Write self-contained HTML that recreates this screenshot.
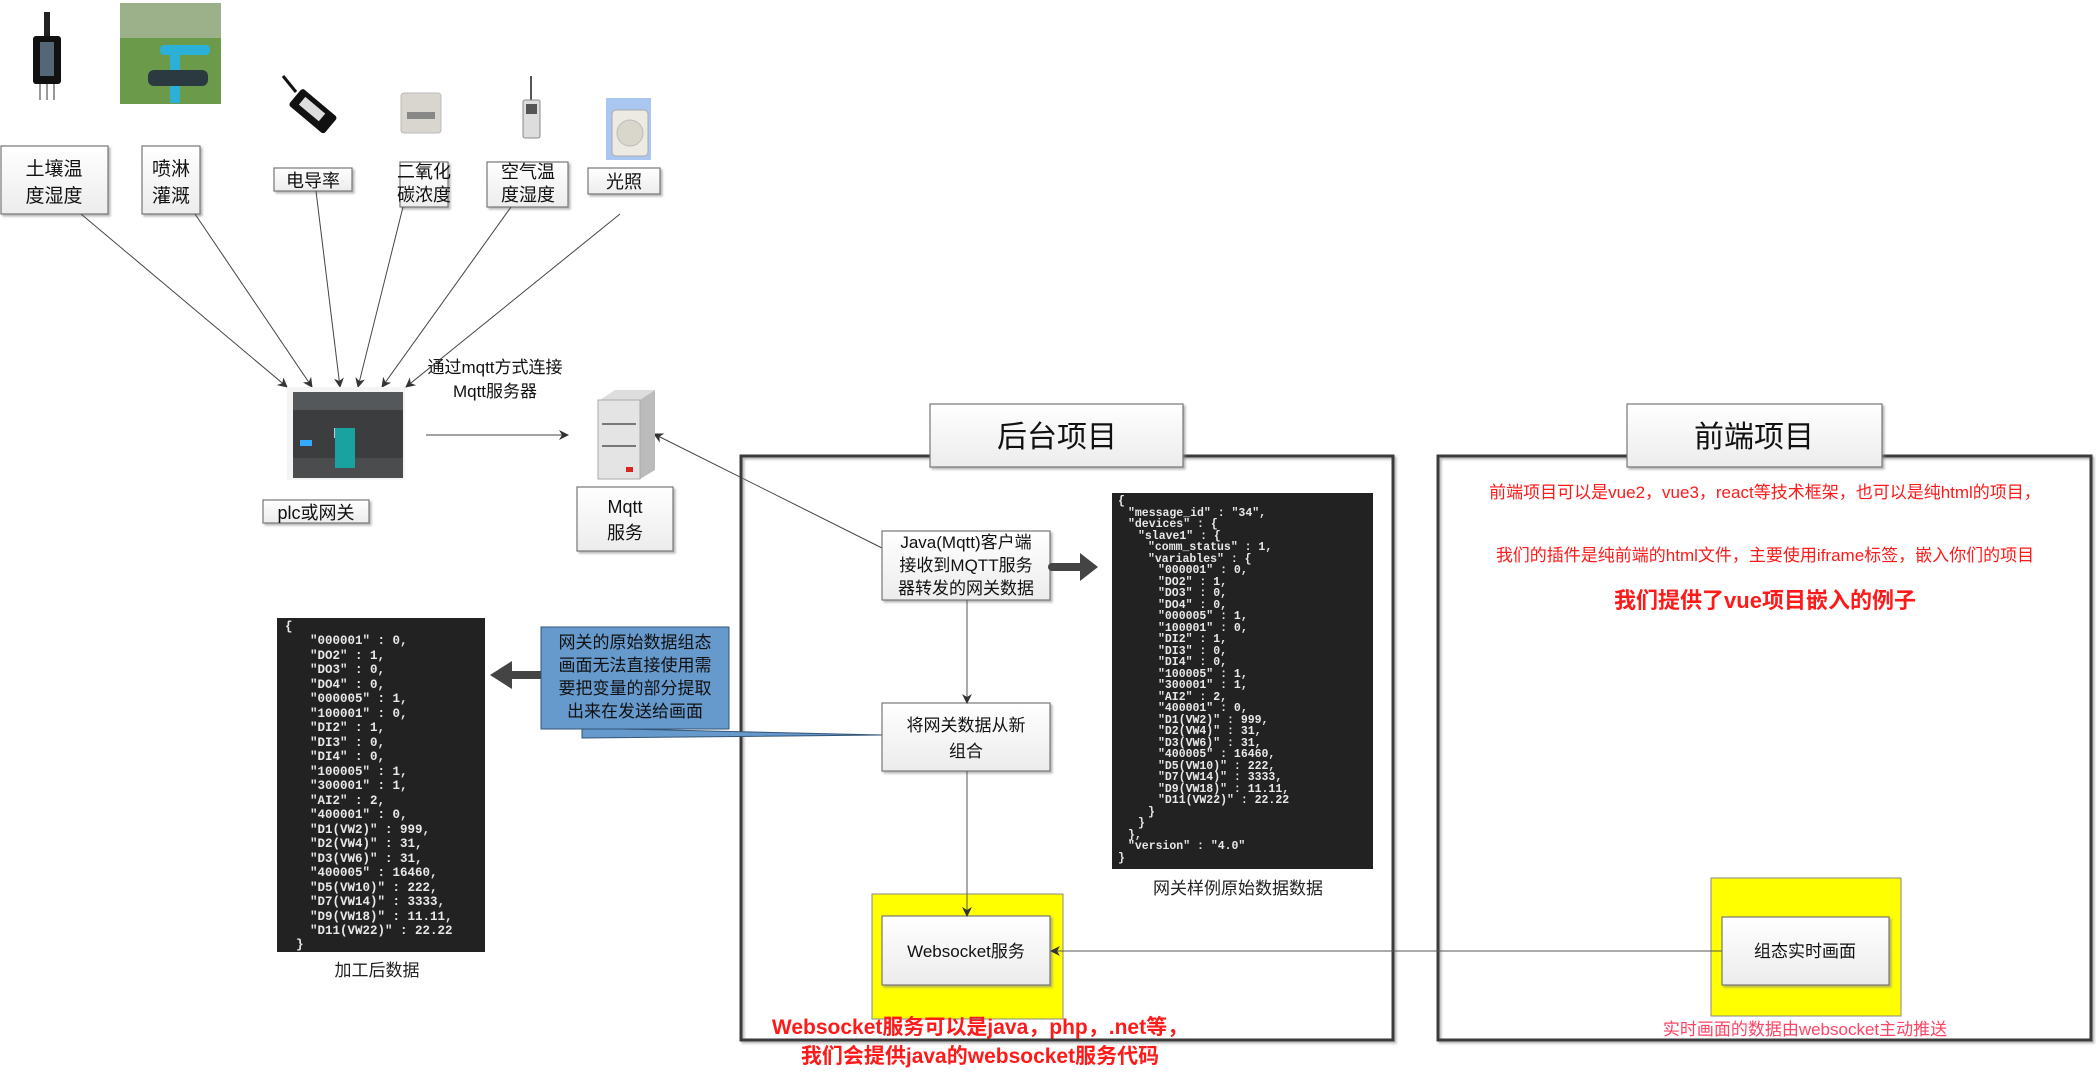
<!DOCTYPE html>
<html><head><meta charset="utf-8">
<style>
html,body{margin:0;padding:0;background:#fff;width:2096px;height:1084px;overflow:hidden}
svg{display:block}
text{font-family:"Liberation Sans","Noto Sans CJK SC",sans-serif}
.lbl{font-size:19px;fill:#111}
.code text{font-family:"Liberation Mono","DejaVu Sans Mono",monospace;font-weight:bold;fill:#e8e8e8}
</style></head><body>
<svg width="2096" height="1084" viewBox="0 0 2096 1084" xmlns="http://www.w3.org/2000/svg">
<defs>
<linearGradient id="g" x1="0" y1="0" x2="0" y2="1"><stop offset="0" stop-color="#ffffff"/><stop offset="1" stop-color="#ececec"/></linearGradient>
<marker id="a" markerWidth="10" markerHeight="10" refX="9" refY="5" orient="auto" markerUnits="userSpaceOnUse"><path d="M0,0 L10,5 L0,10 L3,5 z" fill="#333"/></marker>
<filter id="sh" x="-5%" y="-5%" width="115%" height="115%"><feDropShadow dx="2" dy="2" stdDeviation="1" flood-color="#888" flood-opacity="0.6"/></filter>
</defs>

<rect x="44" y="12" width="6" height="28" fill="#222"/>
<rect x="33" y="36" width="28" height="48" rx="3" fill="#111"/>
<rect x="40" y="42" width="14" height="34" fill="#567"/>
<line x1="40" y1="84" x2="40" y2="100" stroke="#999" stroke-width="2"/><line x1="47" y1="84" x2="47" y2="100" stroke="#999" stroke-width="2"/><line x1="54" y1="84" x2="54" y2="100" stroke="#999" stroke-width="2"/>
<rect x="120" y="3" width="101" height="101" fill="#6a9a4a"/>
<rect x="120" y="3" width="101" height="35" fill="#9cb08a"/>
<rect x="160" y="45" width="50" height="10" rx="4" fill="#2bb0d8"/>
<rect x="170" y="55" width="10" height="48" fill="#2bb0d8"/>
<rect x="148" y="70" width="60" height="16" rx="6" fill="#2a3a40"/>
<g transform="rotate(40 310 110)"><rect x="290" y="98" width="46" height="22" rx="3" fill="#111"/><rect x="298" y="103" width="26" height="10" fill="#ddd"/></g>
<line x1="283" y1="76" x2="296" y2="92" stroke="#111" stroke-width="3"/>
<rect x="401" y="93" width="40" height="40" rx="3" fill="#d8d6cf" stroke="#bbb"/>
<rect x="407" y="112" width="28" height="7" fill="#888"/>
<line x1="531" y1="76" x2="531" y2="100" stroke="#555" stroke-width="2"/>
<rect x="523" y="100" width="17" height="38" rx="2" fill="#ddd" stroke="#888"/>
<rect x="526" y="104" width="11" height="10" fill="#555"/>
<rect x="606" y="98" width="45" height="62" fill="#a9c7f0"/>
<rect x="612" y="110" width="36" height="46" rx="4" fill="#eceae2" stroke="#aaa"/>
<circle cx="630" cy="133" r="13" fill="#d9d6cc" stroke="#bbb"/>

<g filter="url(#sh)" stroke="#777" stroke-width="1.2" fill="url(#g)">
<rect x="1" y="146" width="107" height="68"/>
<rect x="142" y="146" width="58" height="68"/>
<rect x="274" y="168" width="78" height="23"/>
<rect x="400" y="162" width="48" height="45"/>
<rect x="487" y="162" width="81" height="45"/>
<rect x="588" y="168" width="72" height="26"/>
<rect x="263" y="500" width="106" height="23"/>
<rect x="577" y="487" width="96" height="64"/>
</g>
<g class="lbl" text-anchor="middle">
<text x="54" y="175">土壤温</text><text x="54" y="202">度湿度</text>
<text x="171" y="175">喷淋</text><text x="171" y="202">灌溉</text>
<text x="313" y="187" font-size="18">电导率</text>
<text x="424" y="178" font-size="18">二氧化</text><text x="424" y="201" font-size="18">碳浓度</text>
<text x="528" y="178" font-size="18">空气温</text><text x="528" y="201" font-size="18">度湿度</text>
<text x="624" y="188" font-size="18">光照</text>
<text x="316" y="519" font-size="18">plc或网关</text>
<text x="625" y="513" font-size="18">Mqtt</text><text x="625" y="539" font-size="18">服务</text>
<text x="495" y="373" font-size="17">通过mqtt方式连接</text>
<text x="495" y="397" font-size="17">Mqtt服务器</text>
</g>

<g stroke="#444" stroke-width="1" marker-end="url(#a)">
<line x1="81" y1="214" x2="287" y2="387"/>
<line x1="195" y1="214" x2="312" y2="387"/>
<line x1="316" y1="191" x2="340" y2="387"/>
<line x1="403" y1="207" x2="358" y2="387"/>
<line x1="511" y1="207" x2="382" y2="387"/>
<line x1="620" y1="214" x2="406" y2="387"/>
<line x1="426" y1="435" x2="568" y2="435"/>
<line x1="882" y1="548" x2="654" y2="434"/>
</g>

<rect x="287" y="387" width="118" height="93" fill="#f4f4f4"/>
<rect x="293" y="392" width="110" height="86" fill="#3b3d3f"/>
<rect x="293" y="392" width="110" height="18" fill="#55585a"/>
<rect x="293" y="458" width="110" height="20" fill="#4a4c4e"/>
<rect x="334" y="428" width="10" height="10" fill="#ccc"/>
<rect x="335" y="428" width="20" height="40" fill="#1aa2a0"/>
<rect x="300" y="440" width="12" height="6" fill="#3af"/>

<polygon points="600,400 640,400 655,390 615,390" fill="#ddd"/>
<polygon points="640,400 655,390 655,470 640,479" fill="#bbb"/>
<rect x="598" y="400" width="42" height="79" fill="#e4e4e4" stroke="#aaa"/>
<line x1="602" y1="424" x2="636" y2="424" stroke="#777" stroke-width="2"/>
<line x1="602" y1="446" x2="636" y2="446" stroke="#777" stroke-width="2"/>
<rect x="626" y="467" width="7" height="5" fill="#d22"/>

<rect x="741" y="456" width="652" height="584" fill="none" stroke="#3a3a3a" stroke-width="3" filter="url(#sh)"/>
<rect x="1438" y="456" width="653" height="584" fill="none" stroke="#3a3a3a" stroke-width="3" filter="url(#sh)"/>
<g filter="url(#sh)" stroke="#777" stroke-width="1.2" fill="url(#g)">
<rect x="930" y="404" width="253" height="63"/>
<rect x="1627" y="404" width="255" height="63"/>
</g>
<text x="1057" y="447" text-anchor="middle" font-size="30" fill="#111">后台项目</text>
<text x="1754" y="447" text-anchor="middle" font-size="30" fill="#111">前端项目</text>

<rect x="872" y="894" width="191" height="125" fill="#ffff00" stroke="#888"/>
<rect x="1711" y="878" width="190" height="138" fill="#ffff00" stroke="#888"/>

<g filter="url(#sh)" stroke="#777" stroke-width="1.2" fill="url(#g)">
<rect x="882" y="531" width="168" height="69"/>
<rect x="882" y="703" width="168" height="68"/>
<rect x="882" y="916" width="168" height="69"/>
<rect x="1722" y="917" width="167" height="68"/>
</g>
<g class="lbl" text-anchor="middle" font-size="17">
<text x="966" y="548" font-size="17">Java(Mqtt)客户端</text>
<text x="966" y="571" font-size="17">接收到MQTT服务</text>
<text x="966" y="594" font-size="17">器转发的网关数据</text>
<text x="966" y="731" font-size="17">将网关数据从新</text>
<text x="966" y="757" font-size="17">组合</text>
<text x="966" y="957" font-size="17">Websocket服务</text>
<text x="1805" y="957" font-size="17">组态实时画面</text>
</g>

<g stroke="#555" stroke-width="1" marker-end="url(#a)">
<line x1="967" y1="600" x2="967" y2="703"/>
<line x1="967" y1="771" x2="967" y2="916"/>
<line x1="1722" y1="951" x2="1051" y2="951"/>
</g>

<line x1="1052" y1="567" x2="1082" y2="567" stroke="#444" stroke-width="8" stroke-linecap="round"/>
<polygon points="1080,553 1098,567 1080,581" fill="#444"/>
<line x1="541" y1="675" x2="510" y2="675" stroke="#444" stroke-width="8" stroke-linecap="round"/>
<polygon points="512,661 490,675 512,689" fill="#444"/>

<polygon points="582,729 582,738 882,735 622,729" fill="#6699cc" stroke="#335577" stroke-width="1"/>
<rect x="541" y="627" width="188" height="102" fill="#6699cc" stroke="#335577" stroke-width="1"/>
<g text-anchor="middle" font-size="17">
<text x="635" y="648" fill="#111">网关的原始数据组态</text>
<text x="635" y="671" fill="#111">画面无法直接使用需</text>
<text x="635" y="694" fill="#111">要把变量的部分提取</text>
<text x="635" y="717" fill="#111">出来在发送给画面</text>
</g>

<rect x="1112" y="493" width="261" height="376" fill="#222"/>
<g class="code" font-size="11.5">
<text x="1118" y="504">{</text>
<text x="1128" y="516">"message_id" : "34",</text>
<text x="1128" y="527">"devices" : {</text>
<text x="1138" y="539">"slave1" : {</text>
<text x="1148" y="550">"comm_status" : 1,</text>
<text x="1148" y="562">"variables" : {</text>
<text x="1158" y="573">"000001" : 0,</text>
<text x="1158" y="585">"DO2" : 1,</text>
<text x="1158" y="596">"DO3" : 0,</text>
<text x="1158" y="608">"DO4" : 0,</text>
<text x="1158" y="619">"000005" : 1,</text>
<text x="1158" y="631">"100001" : 0,</text>
<text x="1158" y="642">"DI2" : 1,</text>
<text x="1158" y="654">"DI3" : 0,</text>
<text x="1158" y="665">"DI4" : 0,</text>
<text x="1158" y="677">"100005" : 1,</text>
<text x="1158" y="688">"300001" : 1,</text>
<text x="1158" y="700">"AI2" : 2,</text>
<text x="1158" y="711">"400001" : 0,</text>
<text x="1158" y="723">"D1(VW2)" : 999,</text>
<text x="1158" y="734">"D2(VW4)" : 31,</text>
<text x="1158" y="746">"D3(VW6)" : 31,</text>
<text x="1158" y="757">"400005" : 16460,</text>
<text x="1158" y="769">"D5(VW10)" : 222,</text>
<text x="1158" y="780">"D7(VW14)" : 3333,</text>
<text x="1158" y="792">"D9(VW18)" : 11.11,</text>
<text x="1158" y="803">"D11(VW22)" : 22.22</text>
<text x="1148" y="815">}</text>
<text x="1138" y="826">}</text>
<text x="1128" y="838">},</text>
<text x="1128" y="849">"version" : "4.0"</text>
<text x="1118" y="861">}</text>
</g>
<text x="1238" y="894" text-anchor="middle" font-size="17" fill="#222">网关样例原始数据数据</text>

<rect x="277" y="618" width="208" height="334" fill="#222"/>
<g class="code" font-size="12.5">
<text x="285" y="630">{</text>
<text x="310" y="644">"000001" : 0,</text>
<text x="310" y="659">"DO2" : 1,</text>
<text x="310" y="673">"DO3" : 0,</text>
<text x="310" y="688">"DO4" : 0,</text>
<text x="310" y="702">"000005" : 1,</text>
<text x="310" y="717">"100001" : 0,</text>
<text x="310" y="731">"DI2" : 1,</text>
<text x="310" y="746">"DI3" : 0,</text>
<text x="310" y="760">"DI4" : 0,</text>
<text x="310" y="775">"100005" : 1,</text>
<text x="310" y="789">"300001" : 1,</text>
<text x="310" y="804">"AI2" : 2,</text>
<text x="310" y="818">"400001" : 0,</text>
<text x="310" y="833">"D1(VW2)" : 999,</text>
<text x="310" y="847">"D2(VW4)" : 31,</text>
<text x="310" y="862">"D3(VW6)" : 31,</text>
<text x="310" y="876">"400005" : 16460,</text>
<text x="310" y="891">"D5(VW10)" : 222,</text>
<text x="310" y="905">"D7(VW14)" : 3333,</text>
<text x="310" y="920">"D9(VW18)" : 11.11,</text>
<text x="310" y="934">"D11(VW22)" : 22.22</text>
<text x="296" y="948">}</text>
</g>
<text x="377" y="976" text-anchor="middle" font-size="17" fill="#222">加工后数据</text>

<g text-anchor="middle" fill="#ff1a1a">
<text x="1765" y="498" font-size="17">前端项目可以是vue2，vue3，react等技术框架，也可以是纯html的项目，</text>
<text x="1765" y="561" font-size="17">我们的插件是纯前端的html文件，主要使用iframe标签，嵌入你们的项目</text>
<text x="1765" y="608" font-size="22" font-weight="bold">我们提供了vue项目嵌入的例子</text>
<text x="980" y="1034" font-size="21" font-weight="bold">Websocket服务可以是java，php，.net等，</text>
<text x="980" y="1063" font-size="21" font-weight="bold">我们会提供java的websocket服务代码</text>
<text x="1805" y="1035" font-size="17" fill="#ff4466">实时画面的数据由websocket主动推送</text>
</g>
</svg>
</body></html>
